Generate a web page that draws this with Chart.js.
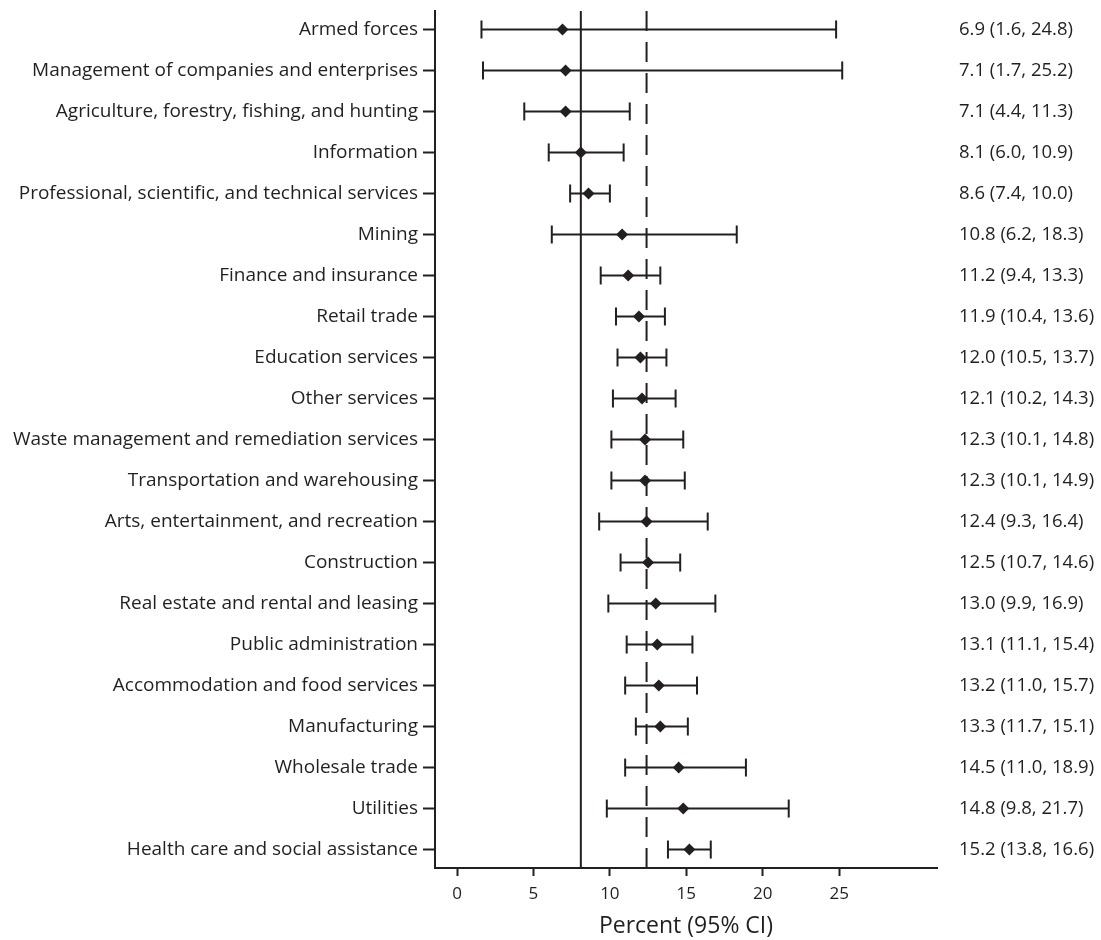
<!DOCTYPE html>
<html>
<head>
<meta charset="utf-8">
<script src="https://cdn.jsdelivr.net/npm/chart.js@4.4.1/dist/chart.umd.min.js"></script>
<style>
  html, body { margin: 0; padding: 0; background: #ffffff; }
  #wrap { width: 1101px; height: 940px; position: relative; }
</style>
</head>
<body>
<div id="wrap"><canvas id="forest"></canvas></div>
<script>
// Industry groups, top to bottom
const industries = [
  "Armed forces",
  "Management of companies and enterprises",
  "Agriculture, forestry, fishing, and hunting",
  "Information",
  "Professional, scientific, and technical services",
  "Mining",
  "Finance and insurance",
  "Retail trade",
  "Education services",
  "Other services",
  "Waste management and remediation services",
  "Transportation and warehousing",
  "Arts, entertainment, and recreation",
  "Construction",
  "Real estate and rental and leasing",
  "Public administration",
  "Accommodation and food services",
  "Manufacturing",
  "Wholesale trade",
  "Utilities",
  "Health care and social assistance"
];

// Point estimates (percent) and 95% confidence limits
const estimate = [6.9, 7.1, 7.1, 8.1, 8.6, 10.8, 11.2, 11.9, 12.0, 12.1, 12.3, 12.3, 12.4, 12.5, 13.0, 13.1, 13.2, 13.3, 14.5, 14.8, 15.2];
const lower    = [1.6, 1.7, 4.4, 6.0, 7.4, 6.2, 9.4, 10.4, 10.5, 10.2, 10.1, 10.1, 9.3, 10.7, 9.9, 11.1, 11.0, 11.7, 11.0, 9.8, 13.8];
const upper    = [24.8, 25.2, 11.3, 10.9, 10.0, 18.3, 13.3, 13.6, 13.7, 14.3, 14.8, 14.9, 16.4, 14.6, 16.9, 15.4, 15.7, 15.1, 18.9, 21.7, 16.6];

// Reference lines
const solidRef = 8.1;
const dashedRef = 12.4;

// X-axis tick values
const xTicks = [0, 5, 10, 15, 20, 25];

const INK = "#231f20";
const FONT = "'Open Sans', 'DejaVu Sans', sans-serif";

const ciLabels = estimate.map((v, i) =>
  v.toFixed(1) + " (" + lower[i].toFixed(1) + ", " + upper[i].toFixed(1) + ")");

const yMin = -0.45, yMax = 20.45;

const datasets = [];

// vertical reference lines
datasets.push({
  type: "line",
  data: [{ x: solidRef, y: yMin }, { x: solidRef, y: yMax }],
  borderColor: INK, borderWidth: 2, pointRadius: 0, clip: false, order: 3
});
datasets.push({
  type: "line",
  data: [{ x: dashedRef, y: yMin }, { x: dashedRef, y: yMax }],
  borderColor: INK, borderWidth: 2, borderDash: [20, 11], pointRadius: 0, clip: false, order: 3
});

// confidence interval whiskers with end caps
industries.forEach((name, i) => {
  datasets.push({
    type: "line",
    label: name,
    data: [{ x: lower[i], y: i }, { x: upper[i], y: i }],
    borderColor: INK,
    borderWidth: 2,
    pointStyle: "line",
    rotation: 90,
    pointRadius: 9,
    pointBorderWidth: 2,
    pointBorderColor: INK,
    pointBackgroundColor: INK,
    order: 2
  });
});

// point estimates
datasets.push({
  type: "scatter",
  data: estimate.map((v, i) => ({ x: v, y: i })),
  pointStyle: "rectRot",
  pointRadius: 6,
  pointBackgroundColor: INK,
  pointBorderColor: INK,
  pointBorderWidth: 0,
  order: 1
});

const rowTicks = (scale) => {
  scale.ticks = industries.map((_, i) => ({ value: i }));
};

// fixed side widths; no extra vertical padding from label heights
const fitSide = (w) => (scale) => {
  scale.width = w;
  scale.paddingTop = 0;
  scale.paddingBottom = 0;
};

new Chart(document.getElementById("forest"), {
  type: "scatter",
  data: { datasets },
  options: {
    responsive: true,
    maintainAspectRatio: false,
    animation: false,
    layout: { padding: { top: 10, left: 0, right: 0, bottom: 0 } },
    plugins: { legend: { display: false }, tooltip: { enabled: false } },
    scales: {
      x: {
        type: "linear",
        min: -1.44,
        max: 31.4,
        afterBuildTicks: (scale) => { scale.ticks = xTicks.map(v => ({ value: v })); },
        afterFit: (scale) => { scale.height = 72; scale.paddingLeft = 0; scale.paddingRight = 0; },
        grid: { display: true, drawOnChartArea: false, drawTicks: true, tickLength: 8, tickWidth: 2, color: INK },
        border: { display: true, color: INK, width: 2 },
        ticks: { color: INK, font: { family: FONT, size: 17 }, padding: 8, maxRotation: 0 },
        title: { display: true, text: "Percent (95% CI)", color: INK, font: { family: FONT, size: 23 }, padding: { top: 4, bottom: 0 } }
      },
      y: {
        type: "linear",
        position: "left",
        reverse: true,
        min: yMin,
        max: yMax,
        afterBuildTicks: rowTicks,
        afterFit: fitSide(435),
        grid: { display: true, drawOnChartArea: false, drawTicks: true, tickLength: 12, tickWidth: 2, color: INK },
        border: { display: true, color: INK, width: 2 },
        ticks: { color: INK, font: { family: FONT, size: 19 }, padding: 5, autoSkip: false,
                 callback: (v) => industries[v] }
      },
      y2: {
        type: "linear",
        position: "right",
        reverse: true,
        min: yMin,
        max: yMax,
        afterBuildTicks: rowTicks,
        afterFit: fitSide(164),
        grid: { display: false, drawTicks: false },
        border: { display: false },
        ticks: { color: INK, font: { family: FONT, size: 18.5 }, padding: 22, autoSkip: false,
                 callback: (v) => ciLabels[v] }
      }
    }
  }
});
</script>
</body>
</html>
